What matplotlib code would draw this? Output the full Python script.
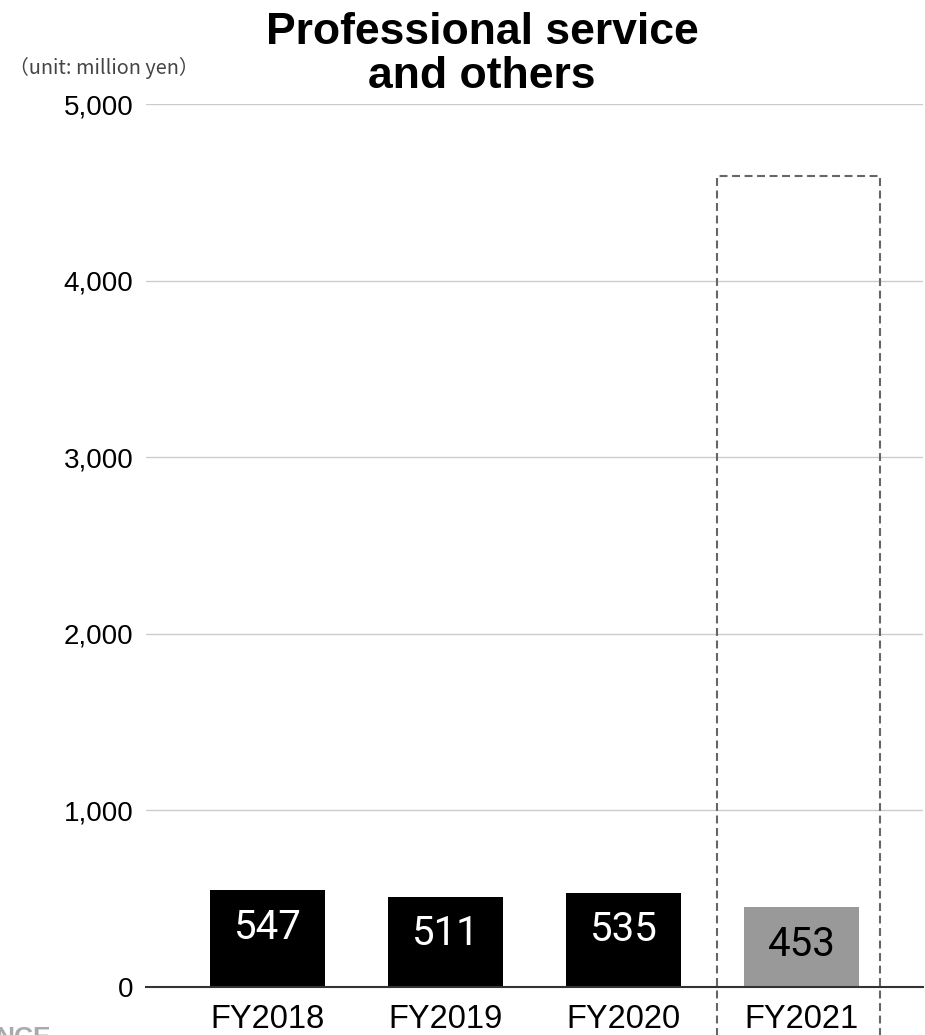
import matplotlib
matplotlib.use("Agg")
import matplotlib.pyplot as plt
from matplotlib.patches import Rectangle

# Segment revenue, million yen
years = ["FY2018", "FY2019", "FY2020", "FY2021"]
revenue = [547, 511, 535, 453]
bar_colors = ["#000000", "#000000", "#000000", "#999999"]
label_colors = ["#ffffff", "#ffffff", "#ffffff", "#000000"]
y_ticks = [0, 1000, 2000, 3000, 4000, 5000]
forecast_box_top = 4590

W, H = 925, 1035
fig = plt.figure(figsize=(W / 100, H / 100), dpi=100)
ax = fig.add_axes([146 / W, 1 - 987 / H, (923 - 146) / W, (987 - 104) / H])

x = list(range(len(years)))
bars = ax.bar(x, revenue, width=0.646, color=bar_colors, zorder=3)

for xi, v, c in zip(x, revenue, label_colors):
    ax.annotate(f"{v}", xy=(xi, v), xytext=(0, -37), textcoords="offset pixels",
                ha="center", va="center", fontsize=29, color=c,
                family="Roboto", zorder=4)

# Dashed frame around the current fiscal year
ax.add_patch(Rectangle((2.525, -800), 3.441 - 2.525, forecast_box_top + 800,
                       fill=False, edgecolor="#666666", lw=1.5,
                       linestyle=(0, (3.8, 2.2)), clip_on=False, zorder=5))

ax.set_xlim(-0.683, 3.683)
ax.set_ylim(0, 5000)
ax.set_yticks(y_ticks)
ax.set_yticklabels([f"{t:,}" for t in y_ticks], fontsize=20,
                   family="Liberation Sans")
ax.set_xticks(x)
ax.set_xticklabels(years, fontsize=23.5, family="Liberation Sans")
ax.tick_params(axis="both", length=0)
ax.tick_params(axis="y", pad=9)
ax.tick_params(axis="x", pad=12)

ax.grid(axis="y", color="#cccccc", lw=1, zorder=0)
for s in ["top", "right", "left"]:
    ax.spines[s].set_visible(False)
ax.spines["bottom"].set_color("#333333")
ax.spines["bottom"].set_linewidth(1.5)
ax.spines["bottom"].set_zorder(6)

fig.text(482 / W, 1 - 12 / H, "Professional service\nand others",
         ha="center", va="top", fontsize=32, fontweight="bold",
         family="Liberation Sans", linespacing=1.1)
fig.text(9 / W, 1 - 68 / H, "（unit: million yen）", ha="left", va="center",
         fontsize=14.3, color="#444444",
         family=["Noto Sans CJK JP", "DejaVu Sans"])
fig.text(-5 / W, 1 - 1026 / H, "NCE", ha="left", va="top", fontsize=19,
         fontweight="bold", color="#aaaaaa", family="Liberation Sans")

fig.savefig("out.png", dpi=100)
